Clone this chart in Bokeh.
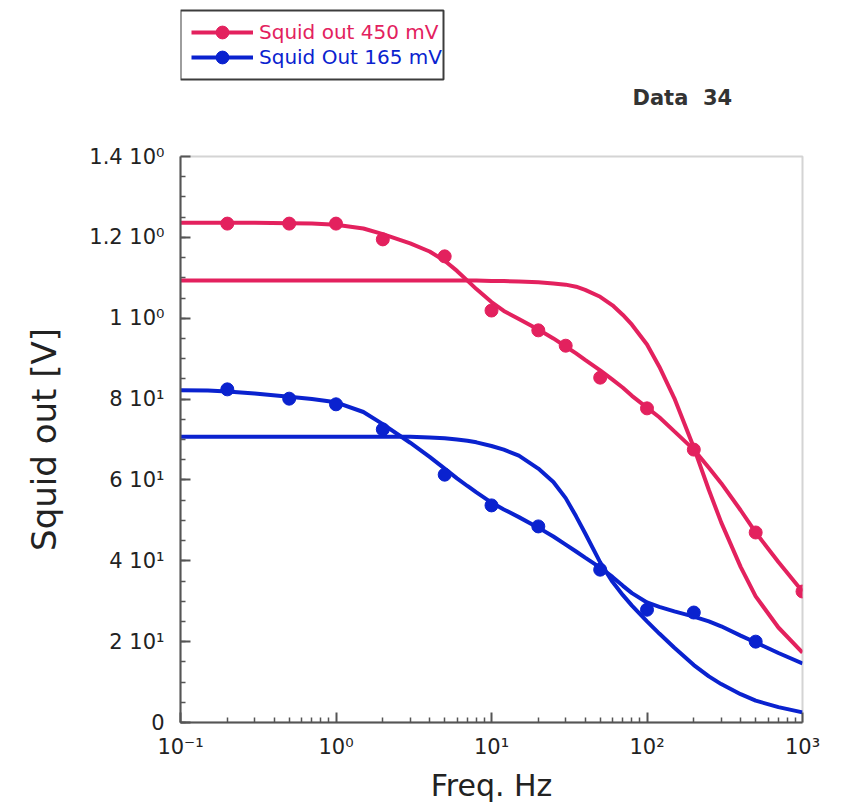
from bokeh.plotting import figure
from bokeh.layouts import column
from bokeh.models import (FixedTicker, Legend, LegendItem, Label, BoxAnnotation, Range1d)
from bokeh.embed import file_html
from bokeh.resources import INLINE

# ---- data ----
f_fit = [0.1, 0.15, 0.2, 0.3, 0.5, 0.7, 1, 1.5, 2, 3, 4, 5, 6, 7, 8, 10, 12, 15, 20, 25,
         30, 35, 40, 50, 60, 70, 80, 100, 120, 150, 200, 250, 300, 400, 500, 700, 1000]
red_fit = [1.236, 1.236, 1.236, 1.236, 1.235, 1.234, 1.231, 1.222, 1.208, 1.185, 1.165,
           1.142, 1.117, 1.093, 1.072, 1.040, 1.018, 0.998, 0.972, 0.950, 0.930, 0.913,
           0.897, 0.871, 0.848, 0.828, 0.808, 0.779, 0.755, 0.720, 0.675, 0.630, 0.592,
           0.525, 0.470, 0.397, 0.324]
red_flat = [1.093, 1.093, 1.093, 1.093, 1.093, 1.093, 1.093, 1.093, 1.093, 1.093, 1.093,
            1.093, 1.093, 1.093, 1.093, 1.092, 1.092, 1.091, 1.089, 1.086, 1.083, 1.078,
            1.070, 1.053, 1.032, 1.008, 0.984, 0.935, 0.880, 0.802, 0.680, 0.575, 0.495,
            0.385, 0.312, 0.235, 0.173]
blue_fit = [0.822, 0.821, 0.819, 0.814, 0.806, 0.800, 0.792, 0.768, 0.738, 0.692, 0.657,
            0.628, 0.604, 0.585, 0.569, 0.544, 0.527, 0.508, 0.482, 0.460, 0.440, 0.423,
            0.408, 0.383, 0.360, 0.338, 0.320, 0.297, 0.286, 0.275, 0.262, 0.250, 0.238,
            0.215, 0.198, 0.172, 0.146]
blue_flat = [0.707, 0.707, 0.707, 0.707, 0.707, 0.707, 0.707, 0.707, 0.707, 0.707, 0.705,
             0.703, 0.700, 0.697, 0.693, 0.684, 0.675, 0.660, 0.628, 0.595, 0.555, 0.510,
             0.468, 0.396, 0.348, 0.315, 0.289, 0.250, 0.220, 0.185, 0.142, 0.114, 0.095,
             0.070, 0.054, 0.038, 0.025]

f_red = [0.2, 0.5, 1, 2, 5, 10, 20, 30, 50, 100, 200, 500, 1000]
v_red = [1.234, 1.234, 1.234, 1.195, 1.153, 1.019, 0.970, 0.932, 0.853, 0.777, 0.675,
         0.470, 0.324]
f_blue = [0.2, 0.5, 1, 2, 5, 10, 20, 50, 100, 200, 500]
v_blue = [0.824, 0.801, 0.787, 0.725, 0.613, 0.537, 0.485, 0.378, 0.279, 0.272, 0.200]

x_ticks = [0.1, 1, 10, 100, 1000]
x_labels = ["10⁻¹", "10⁰", "10¹", "10²", "10³"]
y_ticks = [0, 0.2, 0.4, 0.6, 0.8, 1.0, 1.2, 1.4]
y_labels = ["0", "2 10¹", "4 10¹", "6 10¹", "8 10¹", "1 10⁰", "1.2 10⁰", "1.4 10⁰"]

series_names = ["Squid out 450 mV", "Squid Out 165 mV"]
title_text = "Data\u00a0\u00a034"
RED = "#e3215e"
BLUE = "#0a22cf"
FONT = "DejaVu Sans"

LEFT, FW, RIGHT = 180, 622, 37

# ---------- header strip: legend + "Data 34" ----------
TOP_H = 120
top = figure(frame_width=FW, frame_height=TOP_H, output_backend="svg",
             toolbar_location=None, min_border_left=LEFT, min_border_right=RIGHT,
             min_border_top=0, min_border_bottom=0,
             x_axis_location=None, y_axis_location=None,
             x_range=Range1d(0, 1), y_range=Range1d(100, 101))
top.outline_line_color = None
top.grid.visible = False
top.background_fill_color = "white"
top.border_fill_color = "white"

top.add_layout(BoxAnnotation(left=0, right=443 - LEFT, top=TOP_H - 10, bottom=TOP_H - 79,
                             left_units="screen", right_units="screen",
                             top_units="screen", bottom_units="screen",
                             fill_alpha=0, line_color="#3c3c3c", line_alpha=1.0,
                             line_width=2))

# legend swatches: same series, drawn in this strip only for the key (outside its view)
GH = 32
for name, xs, ys, col, yc in [(series_names[0], f_red, v_red, RED, 32),
                              (series_names[1], f_blue, v_blue, BLUE, 57)]:
    ln = top.line(xs, ys, line_color=col, line_width=4)
    sc = top.scatter(xs, ys, size=13, color=col)
    lg = Legend(items=[LegendItem(label=name, renderers=[ln, sc])],
                location=(191 - LEFT, TOP_H - yc - GH / 2), padding=0, margin=0,
                spacing=0, glyph_width=62, glyph_height=GH, label_height=GH,
                label_standoff=6, label_text_font=FONT, label_text_font_size="20px",
                label_text_color=col, border_line_alpha=0, background_fill_alpha=0)
    top.add_layout(lg)

top.add_layout(Label(x=632 - LEFT, y=TOP_H - 97, x_units="screen", y_units="screen",
                     text=title_text, text_font=FONT, text_font_size="21px",
                     text_font_style="bold", text_color="#333333",
                     text_baseline="middle"))

# ---------- main chart ----------
p = figure(x_axis_type="log", output_backend="svg", toolbar_location=None,
           frame_width=FW, frame_height=566,
           min_border_left=LEFT, min_border_right=RIGHT, min_border_top=156 - TOP_H,
           min_border_bottom=79,
           x_range=Range1d(0.1, 1000), y_range=Range1d(0, 1.4))
p.background_fill_color = "white"
p.border_fill_color = "white"
p.outline_line_color = "#d4d4d4"
p.outline_line_width = 2
p.grid.visible = False

p.line(f_fit, red_fit, line_color=RED, line_width=4)
p.line(f_fit, red_flat, line_color=RED, line_width=4)
p.line(f_fit, blue_fit, line_color=BLUE, line_width=4)
p.line(f_fit, blue_flat, line_color=BLUE, line_width=4)
p.scatter(f_red, v_red, size=13, color=RED)
p.scatter(f_blue, v_blue, size=13, color=BLUE)

minor_x = [m * d for d in [0.1, 1, 10, 100] for m in range(2, 10)]
p.xaxis.ticker = FixedTicker(ticks=x_ticks, minor_ticks=minor_x)
p.xaxis.major_label_overrides = dict(zip(x_ticks, x_labels))
minor_y = [i * 0.05 for i in range(0, 29)]
p.yaxis.ticker = FixedTicker(ticks=y_ticks, minor_ticks=minor_y)
p.yaxis.major_label_overrides = dict(zip(y_ticks, y_labels))

for ax in (p.xaxis[0], p.yaxis[0]):
    ax.axis_line_color = "#555555"
    ax.axis_line_width = 2
    ax.major_tick_line_color = "#555555"
    ax.minor_tick_line_color = "#555555"
    ax.major_tick_line_width = 2
    ax.minor_tick_line_width = 1.5
    ax.major_tick_in = 10
    ax.major_tick_out = 0
    ax.minor_tick_in = 5
    ax.minor_tick_out = 0
    ax.major_label_text_font = FONT
    ax.major_label_text_font_size = "21px"
    ax.major_label_text_color = "#222222"
    ax.axis_label_text_font = FONT
    ax.axis_label_text_font_style = "normal"
    ax.axis_label_text_color = "#222222"

p.xaxis.axis_label = "Freq. Hz"
p.xaxis.axis_label_text_font_size = "30px"
p.xaxis.major_label_standoff = 12
p.xaxis.axis_label_standoff = 6
p.yaxis.axis_label = "Squid out [V]"
p.yaxis.axis_label_text_font_size = "34px"
p.yaxis.major_label_standoff = 16
p.yaxis.axis_label_standoff = 22

layout = column(top, p, spacing=0)
open("out.html", "w").write(file_html(layout, INLINE))
